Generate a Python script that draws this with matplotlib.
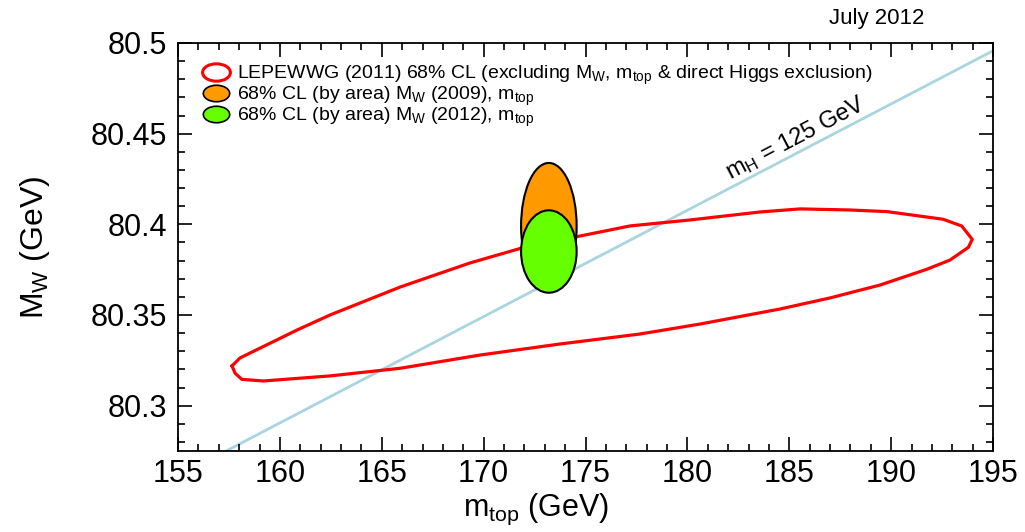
import numpy as np
import matplotlib
matplotlib.use("Agg")
import matplotlib.pyplot as plt
from matplotlib.patches import Ellipse
from matplotlib.lines import Line2D
from matplotlib.path import Path
from matplotlib.transforms import Affine2D
from matplotlib.ticker import MultipleLocator, FuncFormatter

plt.rcParams['font.family'] = ['Liberation Sans', 'DejaVu Sans']
plt.rcParams['mathtext.default'] = 'regular'

# LEPEWWG 2011 68% CL contour (mtop, MW)
lep_mtop = [157.65, 158.04, 160.84, 162.46, 165.90, 169.33, 171.83, 174.58, 177.18,
            180.13, 183.56, 185.53, 187.98, 189.80, 192.55, 193.46, 193.98,
            193.79, 192.89, 191.75, 189.45, 187.00, 184.55, 180.62, 177.67,
            173.75, 169.82, 165.90, 162.46, 159.19, 158.13, 157.80, 157.65]
lep_mw = [80.3219, 80.3263, 80.3417, 80.3500, 80.3654, 80.3787, 80.3868, 80.3932, 80.3991,
          80.4024, 80.4068, 80.4085, 80.4079, 80.4070, 80.4028, 80.3991, 80.3917,
          80.3873, 80.3803, 80.3752, 80.3665, 80.3594, 80.3533, 80.3450, 80.3395,
          80.3340, 80.3279, 80.3206, 80.3164, 80.3136, 80.3145, 80.3179, 80.3219]

# mH = 125 GeV line
mh_mtop = [157.36, 176.0, 195.0]
mh_mw = [80.275, 80.3843, 80.4957]

# direct measurements
mtop = 173.2
mtop_err = 0.9
mw_2009 = 80.399
mw_2009_err = 0.023
mw_2012 = 80.385
mw_2012_err = 0.015
area_scale = 1.515  # 68% CL for 2 dof

fig = plt.figure(figsize=(10.25, 5.32), dpi=100)
ax = fig.add_axes([0.1737, 0.1523, 0.7951, 0.7669])

ax.plot(mh_mtop, mh_mw, color='#a9d5e0', lw=2.0, zorder=1)
ax.plot(lep_mtop, lep_mw, color='#ff0000', lw=2.3, zorder=2)

orange = Ellipse((mtop, mw_2009), 2 * mtop_err * area_scale, 2 * mw_2009_err * area_scale,
                 facecolor='#ff9900', edgecolor='black', lw=1.5, zorder=3)
green = Ellipse((mtop, mw_2012), 2 * mtop_err * area_scale, 2 * mw_2012_err * area_scale,
                facecolor='#66ff00', edgecolor='black', lw=1.5, zorder=4)
ax.add_patch(orange)
ax.add_patch(green)

ax.text(185.3, 80.4475, 'm$_H$ = 125 GeV', fontsize=17, rotation=27.6,
        ha='center', va='center', rotation_mode='anchor')

ax.set_xlim(155, 195)
ax.set_ylim(80.275, 80.5)
ax.xaxis.set_major_locator(MultipleLocator(5))
ax.xaxis.set_minor_locator(MultipleLocator(1))
ax.yaxis.set_major_locator(MultipleLocator(0.05))
ax.yaxis.set_minor_locator(MultipleLocator(0.01))
ax.yaxis.set_major_formatter(FuncFormatter(lambda v, p: '%g' % round(v, 3)))
ax.tick_params(which='both', direction='in', top=True, right=True, width=1.2)
ax.tick_params(which='major', length=10, labelsize=22)
ax.tick_params(which='minor', length=5)
ax.tick_params(axis='x', which='major', pad=6)
ax.tick_params(axis='y', which='major', pad=8)
for s in ax.spines.values():
    s.set_linewidth(1.3)

ax.set_xlabel('m$_{top}$ (GeV)', fontsize=22)
ax.set_ylabel('M$_W$ (GeV)', fontsize=23)
ax.xaxis.set_label_coords(0.44, -0.10)
ax.yaxis.set_label_coords(-0.155, 0.5)

fig.text(0.855, 0.966, 'July 2012', fontsize=16, ha='center', va='center')

ell = Path.unit_circle().transformed(Affine2D().scale(1.6, 1.0))
handles = [
    Line2D([], [], ls='none', marker=ell, markersize=20, markerfacecolor='white',
           markeredgecolor='red', markeredgewidth=2.2),
    Line2D([], [], ls='none', marker=ell, markersize=19, markerfacecolor='#ff9900',
           markeredgecolor='black', markeredgewidth=1.2),
    Line2D([], [], ls='none', marker=ell, markersize=19, markerfacecolor='#66ff00',
           markeredgecolor='black', markeredgewidth=1.2),
]
labels = [
    'LEPEWWG (2011) 68% CL (excluding M$_W$, m$_{top}$ & direct Higgs exclusion)',
    '68% CL (by area) M$_W$ (2009), m$_{top}$',
    '68% CL (by area) M$_W$ (2012), m$_{top}$',
]
ax.legend(handles, labels, loc='upper left', bbox_to_anchor=(0.03, 0.95), frameon=False,
          fontsize=14, handlelength=1.4, handletextpad=0.35, labelspacing=-0.1,
          borderaxespad=0, borderpad=0)

fig.savefig('out.png', dpi=100)
